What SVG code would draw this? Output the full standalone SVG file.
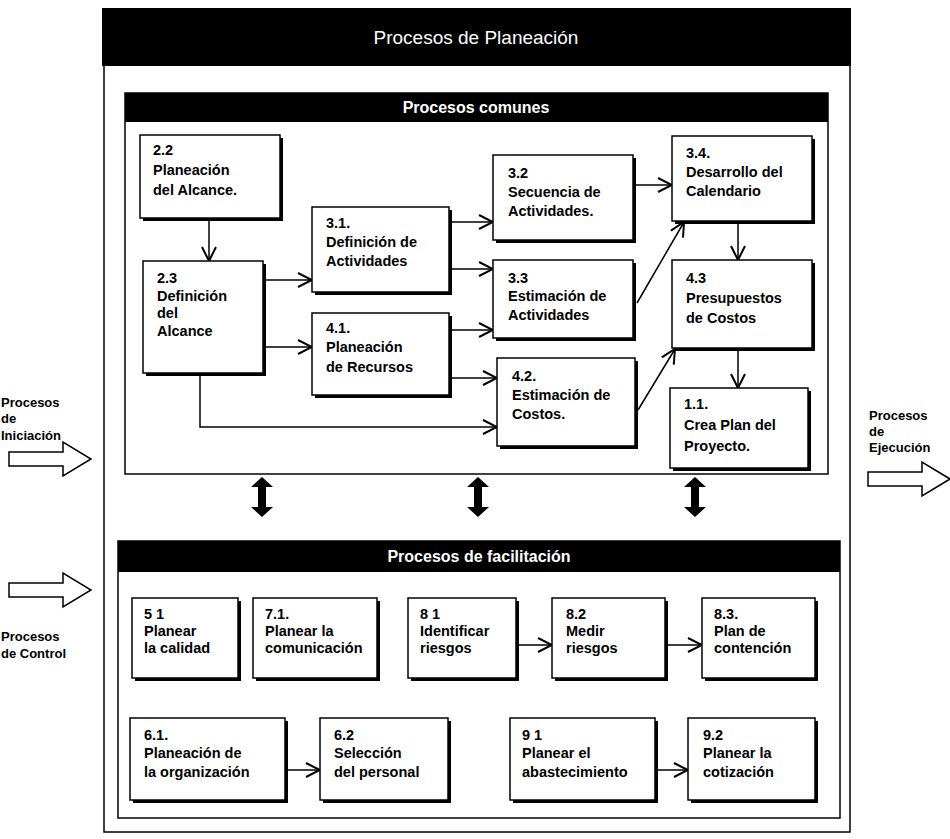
<svg xmlns="http://www.w3.org/2000/svg" width="950" height="839" viewBox="0 0 950 839">
  <style>
    .bar { fill: #000; }
    .frame { fill: #fff; stroke: #000; stroke-width: 1.5; }
    .box { fill: #fff; stroke: #000; stroke-width: 1.5; }
    .shadow { fill: #000; }
    .t { font-family: "Liberation Sans", Arial, sans-serif; font-size: 14.5px; font-weight: bold; fill: #000; }
    .side { font-family: "Liberation Sans", Arial, sans-serif; font-size: 13px; font-weight: bold; fill: #000; }
    .head { font-family: "Liberation Sans", Arial, sans-serif; fill: #fff; text-anchor: middle; }
    .conn { fill: none; stroke: #000; stroke-width: 1.5; }
    .big { fill: #fff; stroke: #000; stroke-width: 1.5; stroke-linejoin: miter; }
  </style>
  <defs>
    <marker id="v" viewBox="0 0 16 16" refX="15" refY="8" markerWidth="16" markerHeight="16" markerUnits="userSpaceOnUse" orient="auto">
      <path d="M1,1 L15,8 L1,15" fill="none" stroke="#000" stroke-width="2"/>
    </marker>
    <!-- vertical double-headed block arrow -->
    <path id="dbl" d="M-4,-10 L-4,10 L-11,10 L0,20 L11,10 L4,10 L4,-10 L11,-10 L0,-20 L-11,-10 Z" fill="#000"/>
    <!-- hollow block arrow pointing right -->
    <path id="blk" d="M0,-7 L54,-7 L54,-17 L82,0 L54,17 L54,7 L0,7 Z"/>
  </defs>

  <!-- outer planning frame -->
  <rect class="frame" x="104" y="10" width="746" height="822"/>
  <rect class="bar" x="102" y="8" width="749" height="58"/>
  <text class="head" x="476" y="44" font-size="19">Procesos de Planeación</text>

  <!-- common processes panel -->
  <rect class="frame" x="125" y="93" width="703" height="381"/>
  <rect class="bar" x="125" y="93" width="703" height="29"/>
  <text class="head" x="476" y="113" font-size="16" font-weight="bold">Procesos comunes</text>

  <!-- facilitating processes panel -->
  <rect class="frame" x="118" y="541" width="722" height="277"/>
  <rect class="bar" x="118" y="541" width="722" height="31"/>
  <text class="head" x="479" y="562" font-size="16" font-weight="bold">Procesos de facilitación</text>

  <!-- links between panels -->
  <g id="panel-links">
    <use href="#dbl" x="262" y="497"/>
    <use href="#dbl" x="478" y="497"/>
    <use href="#dbl" x="695" y="497"/>
  </g>

  <!-- external process groups -->
  <g id="iniciacion">
    <text class="side" x="1" y="407">Procesos</text>
    <text class="side" x="1" y="423">de</text>
    <text class="side" x="1" y="440">Iniciación</text>
    <use href="#blk" class="big" x="9" y="459"/>
  </g>
  <g id="control">
    <use href="#blk" class="big" x="9" y="590"/>
    <text class="side" x="1" y="641">Procesos</text>
    <text class="side" x="1" y="658">de Control</text>
  </g>
  <g id="ejecucion">
    <text class="side" x="869" y="420">Procesos</text>
    <text class="side" x="869" y="436">de</text>
    <text class="side" x="869" y="452">Ejecución</text>
    <use href="#blk" class="big" x="868" y="479"/>
  </g>

  <!-- connectors -->
  <g id="connectors">
    <path class="conn" marker-end="url(#v)" d="M209,220 L209,261"/>
    <path class="conn" marker-end="url(#v)" d="M263,280 L312,280"/>
    <path class="conn" marker-end="url(#v)" d="M263,347 L312,347"/>
    <path class="conn" marker-end="url(#v)" d="M200,373 L200,427 L497,427"/>
    <path class="conn" marker-end="url(#v)" d="M449,222 L493,222"/>
    <path class="conn" marker-end="url(#v)" d="M449,269 L493,269"/>
    <path class="conn" marker-end="url(#v)" d="M449,330 L493,330"/>
    <path class="conn" marker-end="url(#v)" d="M449,378 L497,378"/>
    <path class="conn" marker-end="url(#v)" d="M633,185 L672,185"/>
    <path class="conn" marker-end="url(#v)" d="M637,303 L684,222"/>
    <path class="conn" marker-end="url(#v)" d="M638,410 L675,349"/>
    <path class="conn" marker-end="url(#v)" d="M738,222 L738,260"/>
    <path class="conn" marker-end="url(#v)" d="M738,349 L738,388"/>
    <path class="conn" marker-end="url(#v)" d="M516,645 L552,645"/>
    <path class="conn" marker-end="url(#v)" d="M665,645 L702,645"/>
    <path class="conn" marker-end="url(#v)" d="M285,770 L320,770"/>
    <path class="conn" marker-end="url(#v)" d="M655,770 L688,770"/>
  </g>

  <!-- common process nodes -->
  <g id="n22">
    <rect class="shadow" x="143" y="138" width="140" height="83"/>
    <rect class="box" x="140" y="135" width="140" height="83"/>
    <text class="t" x="153" y="155">2.2</text>
    <text class="t" x="153" y="175">Planeación</text>
    <text class="t" x="153" y="195">del Alcance.</text>
  </g>
  <g id="n23">
    <rect class="shadow" x="146" y="264" width="120" height="112"/>
    <rect class="box" x="143" y="261" width="120" height="112"/>
    <text class="t" x="157" y="283">2.3</text>
    <text class="t" x="157" y="301">Definición</text>
    <text class="t" x="157" y="318">del</text>
    <text class="t" x="157" y="336">Alcance</text>
  </g>
  <g id="n31">
    <rect class="shadow" x="315" y="210" width="137" height="85"/>
    <rect class="box" x="312" y="207" width="137" height="85"/>
    <text class="t" x="326" y="228">3.1.</text>
    <text class="t" x="326" y="247">Definición de</text>
    <text class="t" x="326" y="266">Actividades</text>
  </g>
  <g id="n41">
    <rect class="shadow" x="315" y="316" width="137" height="82"/>
    <rect class="box" x="312" y="313" width="137" height="82"/>
    <text class="t" x="326" y="333">4.1.</text>
    <text class="t" x="326" y="352">Planeación</text>
    <text class="t" x="326" y="372">de Recursos</text>
  </g>
  <g id="n32">
    <rect class="shadow" x="496" y="158" width="140" height="85"/>
    <rect class="box" x="493" y="155" width="140" height="85"/>
    <text class="t" x="508" y="178">3.2</text>
    <text class="t" x="508" y="197">Secuencia de</text>
    <text class="t" x="508" y="216">Actividades.</text>
  </g>
  <g id="n33">
    <rect class="shadow" x="496" y="263" width="140" height="78"/>
    <rect class="box" x="493" y="260" width="140" height="78"/>
    <text class="t" x="508" y="283">3.3</text>
    <text class="t" x="508" y="301">Estimación de</text>
    <text class="t" x="508" y="320">Actividades</text>
  </g>
  <g id="n42">
    <rect class="shadow" x="500" y="361" width="138" height="88"/>
    <rect class="box" x="497" y="358" width="138" height="88"/>
    <text class="t" x="512" y="381">4.2.</text>
    <text class="t" x="512" y="400">Estimación de</text>
    <text class="t" x="512" y="419">Costos.</text>
  </g>
  <g id="n34">
    <rect class="shadow" x="675" y="139" width="140" height="85"/>
    <rect class="box" x="672" y="136" width="140" height="85"/>
    <text class="t" x="686" y="158">3.4.</text>
    <text class="t" x="686" y="177">Desarrollo del</text>
    <text class="t" x="686" y="196">Calendario</text>
  </g>
  <g id="n43">
    <rect class="shadow" x="675" y="263" width="140" height="88"/>
    <rect class="box" x="672" y="260" width="140" height="88"/>
    <text class="t" x="686" y="283">4.3</text>
    <text class="t" x="686" y="303">Presupuestos</text>
    <text class="t" x="686" y="323">de Costos</text>
  </g>
  <g id="n11">
    <rect class="shadow" x="673" y="391" width="138" height="80"/>
    <rect class="box" x="670" y="388" width="138" height="80"/>
    <text class="t" x="684" y="409">1.1.</text>
    <text class="t" x="684" y="430">Crea Plan del</text>
    <text class="t" x="684" y="451">Proyecto.</text>
  </g>

  <!-- facilitating process nodes -->
  <g id="n51">
    <rect class="shadow" x="135" y="601" width="106" height="80"/>
    <rect class="box" x="132" y="598" width="106" height="80"/>
    <text class="t" x="144" y="619">5 1</text>
    <text class="t" x="144" y="636">Planear</text>
    <text class="t" x="144" y="653">la calidad</text>
  </g>
  <g id="n71">
    <rect class="shadow" x="256" y="601" width="124" height="80"/>
    <rect class="box" x="253" y="598" width="124" height="80"/>
    <text class="t" x="265" y="619">7.1.</text>
    <text class="t" x="265" y="636">Planear la</text>
    <text class="t" x="265" y="653">comunicación</text>
  </g>
  <g id="n81">
    <rect class="shadow" x="411" y="601" width="108" height="80"/>
    <rect class="box" x="408" y="598" width="108" height="80"/>
    <text class="t" x="420" y="619">8 1</text>
    <text class="t" x="420" y="636">Identificar</text>
    <text class="t" x="420" y="653">riesgos</text>
  </g>
  <g id="n82">
    <rect class="shadow" x="555" y="601" width="113" height="80"/>
    <rect class="box" x="552" y="598" width="113" height="80"/>
    <text class="t" x="566" y="619">8.2</text>
    <text class="t" x="566" y="636">Medir</text>
    <text class="t" x="566" y="653">riesgos</text>
  </g>
  <g id="n83">
    <rect class="shadow" x="705" y="601" width="113" height="80"/>
    <rect class="box" x="702" y="598" width="113" height="80"/>
    <text class="t" x="714" y="619">8.3.</text>
    <text class="t" x="714" y="636">Plan de</text>
    <text class="t" x="714" y="653">contención</text>
  </g>
  <g id="n61">
    <rect class="shadow" x="133" y="721" width="155" height="82"/>
    <rect class="box" x="130" y="718" width="155" height="82"/>
    <text class="t" x="144" y="740">6.1.</text>
    <text class="t" x="144" y="758">Planeación de</text>
    <text class="t" x="144" y="777">la organización</text>
  </g>
  <g id="n62">
    <rect class="shadow" x="323" y="721" width="128" height="82"/>
    <rect class="box" x="320" y="718" width="128" height="82"/>
    <text class="t" x="334" y="740">6.2</text>
    <text class="t" x="334" y="758">Selección</text>
    <text class="t" x="334" y="777">del personal</text>
  </g>
  <g id="n91">
    <rect class="shadow" x="513" y="721" width="145" height="82"/>
    <rect class="box" x="510" y="718" width="145" height="82"/>
    <text class="t" x="522" y="740">9 1</text>
    <text class="t" x="522" y="758">Planear el</text>
    <text class="t" x="522" y="777">abastecimiento</text>
  </g>
  <g id="n92">
    <rect class="shadow" x="691" y="721" width="127" height="82"/>
    <rect class="box" x="688" y="718" width="127" height="82"/>
    <text class="t" x="703" y="740">9.2</text>
    <text class="t" x="703" y="758">Planear la</text>
    <text class="t" x="703" y="777">cotización</text>
  </g>
</svg>
